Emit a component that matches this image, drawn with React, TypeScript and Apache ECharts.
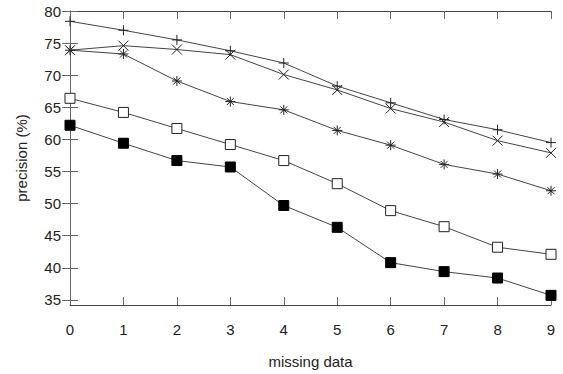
import React, { useEffect, useRef } from "react";
import * as echarts from "echarts";

const xValues = [0, 1, 2, 3, 4, 5, 6, 7, 8, 9];
const seriesPlus = [78.4, 77.0, 75.5, 73.8, 71.9, 68.3, 65.7, 63.1, 61.5, 59.5];
const seriesCross = [73.9, 74.6, 74.0, 73.2, 70.1, 67.7, 64.8, 62.7, 59.8, 57.9];
const seriesStar = [73.9, 73.3, 69.1, 65.9, 64.6, 61.4, 59.1, 56.1, 54.6, 52.0];
const seriesOpenSq = [66.4, 64.2, 61.7, 59.2, 56.7, 53.1, 48.9, 46.4, 43.2, 42.1];
const seriesFilledSq = [62.2, 59.4, 56.7, 55.7, 49.7, 46.3, 40.8, 39.4, 38.4, 35.7];
const yTicks = [35, 40, 45, 50, 55, 60, 65, 70, 75, 80];

const FONT = "'Liberation Sans', Arial, Helvetica, sans-serif";
const LINE = "#444";
const AXIS = "#666";

const pair = (ys: number[]) => xValues.map((x, i) => [x, ys[i]]);

export default function App() {
  const ref = useRef<HTMLDivElement>(null);
  useEffect(() => {
    document.body.style.margin = "0";
    const chart = echarts.init(ref.current!, null, { renderer: "svg" });
    const strokeSym = (symbol: string, size: number) => ({
      symbol,
      symbolSize: size,
      itemStyle: { color: "none", borderColor: "#222", borderWidth: 1 },
    });
    const base = (name: string, ys: number[]) => ({
      name,
      type: "line",
      data: pair(ys),
      lineStyle: { color: LINE, width: 1 },
      showAllSymbol: true,
      z: 3,
    });
    const tickCommon = {
      show: true,
      inside: true,
      length: 8,
      lineStyle: { color: AXIS, width: 1 },
    };
    chart.setOption({
      animation: false,
      backgroundColor: "#fff",
      grid: { left: 70, right: 12, top: 11, bottom: 68 },
      xAxis: [
        {
          type: "value",
          min: 0,
          max: 9,
          interval: 1,
          name: "missing data",
          nameLocation: "middle",
          nameGap: 49,
          nameTextStyle: { fontFamily: FONT, fontSize: 15, color: "#222" },
          axisLine: { show: true, lineStyle: { color: "#444", width: 1 } },
          axisTick: tickCommon,
          axisLabel: { fontFamily: FONT, fontSize: 15, color: "#222", margin: 17 },
          splitLine: { show: false },
        },
        {
          type: "value",
          position: "top",
          min: 0,
          max: 9,
          interval: 1,
          axisLine: { show: true, lineStyle: { color: "#444", width: 1 } },
          axisTick: tickCommon,
          axisLabel: { show: false },
          splitLine: { show: false },
        },
      ],
      yAxis: [
        {
          type: "value",
          min: 34.2,
          max: 80,
          name: "precision (%)",
          nameLocation: "middle",
          nameGap: 41,
          nameTextStyle: { fontFamily: FONT, fontSize: 15, color: "#222" },
          axisLine: { show: true, lineStyle: { color: AXIS, width: 1 } },
          axisTick: { ...tickCommon, customValues: yTicks },
          axisLabel: {
            fontFamily: FONT,
            fontSize: 15,
            color: "#222",
            margin: 9,
            customValues: yTicks,
          },
          splitLine: { show: false },
        },
        {
          type: "value",
          position: "right",
          min: 34.2,
          max: 80,
          axisLine: { show: true, lineStyle: { color: AXIS, width: 1 } },
          axisTick: { ...tickCommon, customValues: yTicks },
          axisLabel: { show: false },
          splitLine: { show: false },
        },
      ],
      series: [
        { ...base("plus", seriesPlus), ...strokeSym("path://M0,5L10,5M5,0L5,10", 10) },
        { ...base("cross", seriesCross), ...strokeSym("path://M0,0L10,10M10,0L0,10", 10) },
        {
          ...base("star", seriesStar),
          ...strokeSym("path://M0,5L10,5M5,0L5,10M1.5,1.5L8.5,8.5M8.5,1.5L1.5,8.5", 10),
        },
        {
          ...base("open", seriesOpenSq),
          symbol: "rect",
          symbolSize: 10,
          itemStyle: { color: "#fff", borderColor: "#222", borderWidth: 1 },
        },
        {
          ...base("filled", seriesFilledSq),
          symbol: "rect",
          symbolSize: 10,
          itemStyle: { color: "#000", borderColor: "#000", borderWidth: 1 },
        },
      ],
    });
    return () => chart.dispose();
  }, []);
  return <div ref={ref} style={{ width: 563, height: 374 }} />;
}
